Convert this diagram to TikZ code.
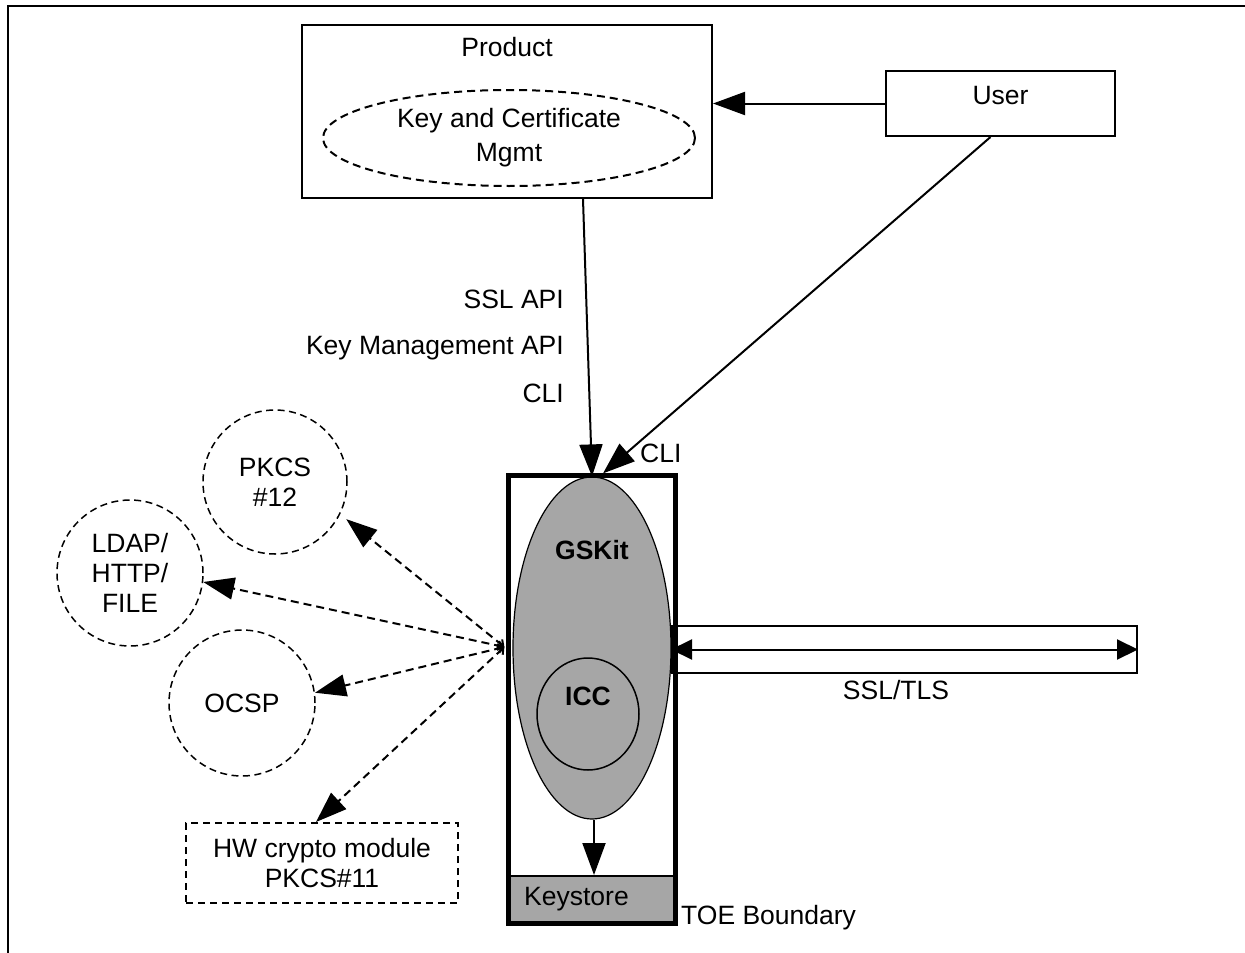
\documentclass[tikz,border=0pt]{standalone}
\usepackage{fontspec}
\setmainfont{Liberation Sans}
\usetikzlibrary{arrows.meta,shapes.geometric,calc}
\definecolor{boxgray}{RGB}{166,166,166}
\begin{document}
\begin{tikzpicture}[x=1pt,y=-1pt,
  font=\fontsize{26.5}{30}\selectfont,
  every node/.style={inner sep=0pt, align=center},
  plainbox/.style={draw, line width=2pt, rectangle},
  dashcircle/.style={draw, circle, line width=1.5pt, dash pattern=on 7pt off 4.5pt, minimum size=145pt},
  arr/.style={line width=2pt, -{Triangle[length=32pt,width=23pt]}},
  dblarr/.style={line width=2pt, {Triangle[length=21pt,width=20pt]}-{Triangle[length=21pt,width=20pt]}},
  darr/.style={line width=2pt, dash pattern=on 8pt off 5pt, {Straight Barb[length=5pt,width=9pt]}-{Triangle[length=31pt,width=22pt]}},
  lbl/.style={anchor=east}
]
\useasboundingbox (0,0) rectangle (1245,953);
% outer frame
\draw[line width=2.5pt] (8,953) -- (8,6) -- (1245,6);

% Product box
\node[plainbox, minimum width=410pt, minimum height=173pt] (product) at (507,111.5) {};
\node[anchor=north] (productlbl) at ($(product.north)+(0,13)$) {Product};
\node[draw, ellipse, line width=2pt, dash pattern=on 8pt off 5pt, minimum width=372pt, minimum height=96pt,
      font=\fontsize{26.5}{34}\selectfont] (kcm) at (509,138) {Key and Certificate\\Mgmt};

% User
\node[plainbox, minimum width=229pt, minimum height=65pt] (user) at (1000.5,103.5) {};
\node (userlbl) at (1000.5,96) {User};

% TOE: keystore, GSKit, ICC
\node[draw, line width=2pt, fill=boxgray, rectangle, minimum width=167pt, minimum height=47pt] (keystore) at (591.5,899.5) {};
\node[anchor=west] (keystorelbl) at (524,899) {Keystore};
\node[draw, ellipse, line width=1.2pt, fill=boxgray, minimum width=158pt, minimum height=342pt] (gskit) at (592,648) {};
\node (gskitlbl) at (592,550) {\bfseries GSKit};
\node[draw, ellipse, line width=1.5pt, minimum width=102pt, minimum height=112pt] (icc) at (588,714) {};
\node (icclbl) at (588,696) {\bfseries ICC};
\node[draw, line width=5pt, rectangle, minimum width=167pt, minimum height=448pt] (toe) at (591.5,699) {};
\node[anchor=west] (toelbl) at (681,918) {TOE Boundary};

% SSL/TLS pipe
\node[draw, line width=2pt, rectangle, minimum width=465pt, minimum height=47pt] (pipe) at (904.5,649.5) {};
\node (ssllbl) at (896,690) {SSL/TLS};

% external entities
\node[dashcircle, minimum size=144pt] (pkcs) at (275,482) {PKCS\\\#12};
\node[dashcircle, minimum size=146pt] (ldap) at (130,573) {LDAP/\\HTTP/\\FILE};
\node[dashcircle, minimum size=146pt] (ocsp) at (242,703) {OCSP};
\node[draw, rectangle, line width=2pt, dash pattern=on 7pt off 5pt, minimum width=272pt, minimum height=80pt] (hw) at (322,863) {HW crypto module\\PKCS\#11};

% API labels
\node[lbl] (l1) at (564,299) {SSL API};
\node[lbl] (l2) at (564,348) {Key Management API};
\node[lbl] (l3) at (564,393) {CLI};
\node[anchor=west] (l4) at (640,453) {CLI};

% connectors
\coordinate (pa) at ($(product.south west)+(282,0)$);
\coordinate (src) at ($(gskit.west)+(-8,-1)$);
\draw[arr] (user.west) -- (user.west -| product.east);
\draw[arr] (pa) -- (gskit.north);
\draw[arr] ($(user.south)+(-10,0)$) -- ($(gskit.north)+(11,-3)$);
\draw[arr] ($(gskit.south)+(2,0)$) -- ($(keystore.north)+(2.5,0)$);
\draw[dblarr] (pipe.west) -- (pipe.east);
\draw[darr] (src) -- ($(pkcs.-28)+(7,3)$);
\draw[darr] (src) -- (ldap.-7);
\draw[darr] (src) -- (ocsp.8);
\draw[darr] (src) -- ($(hw.north)+(-6,0)$);
\end{tikzpicture}
\end{document}
